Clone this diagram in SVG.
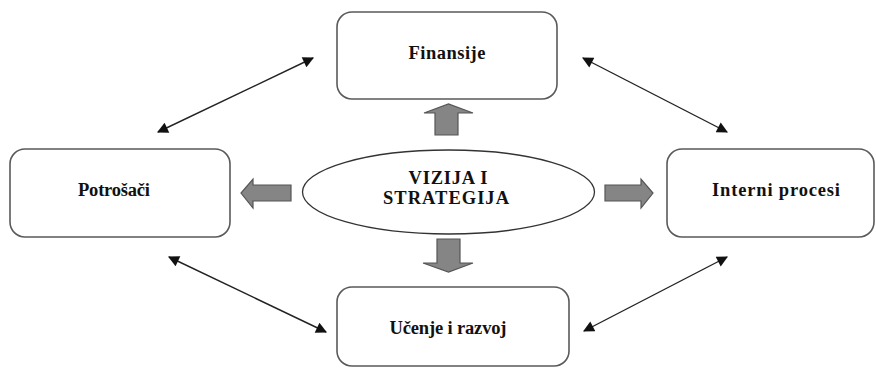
<svg xmlns="http://www.w3.org/2000/svg" width="876" height="370" viewBox="0 0 876 370">
  <style>
    .box { fill: #ffffff; stroke: #5a5a5a; stroke-width: 1.6; }
    .core { fill: #ffffff; stroke: #333333; stroke-width: 1.3; }
    .label { font-family: "Liberation Serif", serif; font-weight: 700; font-size: 18.5px; fill: #111111; text-anchor: middle; }
    .block { fill: #858585; stroke: #555555; stroke-width: 1.2; }
    .link { stroke: #222222; stroke-width: 1.4; fill: none; marker-start: url(#tip); marker-end: url(#tip); }
  </style>
  <defs>
    <marker id="tip" viewBox="0 0 10 10" refX="9" refY="5" markerWidth="13" markerHeight="11" markerUnits="userSpaceOnUse" orient="auto-start-reverse">
      <path d="M0,0 L10,5 L0,10 z" fill="#111111"/>
    </marker>
  </defs>

  <rect width="876" height="370" fill="#ffffff"/>

  <g id="connectors">
    <line class="link" x1="158" y1="132" x2="313" y2="58"/>
    <line class="link" x1="583" y1="58" x2="727" y2="132"/>
    <line class="link" x1="169" y1="257" x2="326" y2="332"/>
    <line class="link" x1="584" y1="331" x2="727" y2="257"/>
    <!-- block arrows from the centre -->
    <path class="block" d="M435,135 L435,113 L424,113 L448.5,104 L473,113 L458,113 L458,135 Z"/>
    <path class="block" d="M437,239 L460,239 L460,263 L473,263 L448.5,272 L423,263 L437,263 Z"/>
    <path class="block" d="M605,185 L641,185 L641,179 L653,193 L641,208 L641,201 L605,201 Z"/>
    <path class="block" d="M291,185 L253,185 L253,179 L241,193 L253,208 L253,201 L291,201 Z"/>
  </g>

  <g id="vizija">
    <ellipse class="core" cx="448.5" cy="192" rx="146" ry="42"/>
    <text class="label" x="448" y="184" textLength="79" lengthAdjust="spacing">VIZIJA I</text>
    <text class="label" x="446" y="204" textLength="126" lengthAdjust="spacing">STRATEGIJA</text>
  </g>

  <g id="finansije">
    <rect class="box" x="337" y="12" width="220" height="87" rx="15"/>
    <text class="label" x="447" y="59" textLength="77" lengthAdjust="spacing">Finansije</text>
  </g>

  <g id="potrosaci">
    <rect class="box" x="10" y="149" width="220" height="88" rx="15"/>
    <text class="label" x="114" y="196" textLength="72" lengthAdjust="spacing">Potrošači</text>
  </g>

  <g id="interni-procesi">
    <rect class="box" x="667" y="149" width="207" height="88" rx="15"/>
    <text class="label" x="776" y="196" textLength="128" lengthAdjust="spacing">Interni procesi</text>
  </g>

  <g id="ucenje">
    <rect class="box" x="337" y="287" width="232" height="79" rx="15"/>
    <text class="label" x="448" y="334" textLength="117" lengthAdjust="spacing">Učenje i razvoj</text>
  </g>
</svg>
